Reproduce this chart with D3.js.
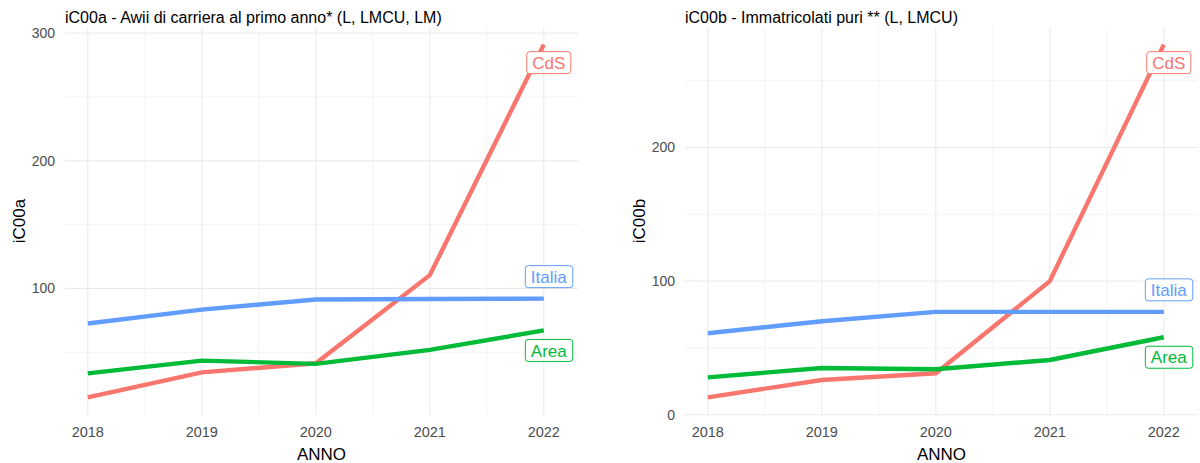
<!DOCTYPE html>
<html>
<head>
<meta charset="utf-8">
<script src="https://cdn.jsdelivr.net/npm/d3@7"></script>
<style>
  body { margin: 0; background: #fff; }
  text { font-family: "Liberation Sans", Arial, sans-serif; }
</style>
</head>
<body>
<svg id="chart" width="1200" height="463"></svg>
<script>
// data
var years = [2018, 2019, 2020, 2021, 2022];
var seriesNames = ["CdS", "Area", "Italia"];
var seriesColors = ["#F8766D", "#00BA38", "#619CFF"];

var iC00aCdS = [14.8, 34.4, 41.5, 110.5, 291];
var iC00aArea = [33.6, 43.6, 41.0, 52.0, 67.2];
var iC00aItalia = [72.6, 83.5, 91.4, 91.8, 92.1];

var iC00bCdS = [13, 26, 31, 100, 277];
var iC00bArea = [28, 35, 34, 41, 58];
var iC00bItalia = [61, 70, 77, 77, 77];

var panels = [
  { left: 65, title: "iC00a - Awii di carriera al primo anno* (L, LMCU, LM)", ylab: "iC00a",
    values: [iC00aCdS, iC00aArea, iC00aItalia] },
  { left: 685, title: "iC00b - Immatricolati puri ** (L, LMCU)", ylab: "iC00b",
    values: [iC00bCdS, iC00bArea, iC00bItalia] }
];

var svg = d3.select("#chart");
var panelW = 513, plotTop = 27, plotBottom = 415;
// offset of the repel-style labels from the last point, in px
var labelDy = [18, 20, -22];

panels.forEach(function(p) {
  var g = svg.append("g").attr("transform", "translate(" + p.left + ",0)");

  var x = d3.scaleLinear().domain([2017.8, 2022.3]).range([0, panelW]);

  var all = [].concat.apply([], p.values);
  var lo = d3.min(all), hi = d3.max(all), pad = (hi - lo) * 0.05;
  var y = d3.scaleLinear().domain([lo - pad, hi + pad]).range([plotBottom, plotTop]);

  var yMajor = y.ticks(3);
  var yMinor = d3.range(50, hi + pad, 100).filter(function(v) { return v > lo - pad; });
  var xMinor = d3.range(2018.5, 2022, 1);

  // grid
  g.selectAll(".ymin").data(yMinor).join("line")
    .attr("x1", 0).attr("x2", panelW)
    .attr("y1", d => y(d)).attr("y2", d => y(d))
    .attr("stroke", "#ebebeb").attr("stroke-width", 0.6);
  g.selectAll(".xmin").data(xMinor).join("line")
    .attr("x1", d => x(d)).attr("x2", d => x(d))
    .attr("y1", plotTop).attr("y2", plotBottom)
    .attr("stroke", "#ebebeb").attr("stroke-width", 0.6);
  g.selectAll(".ymaj").data(yMajor).join("line")
    .attr("x1", 0).attr("x2", panelW)
    .attr("y1", d => y(d)).attr("y2", d => y(d))
    .attr("stroke", "#ebebeb").attr("stroke-width", 1.1);
  g.selectAll(".xmaj").data(years).join("line")
    .attr("x1", d => x(d)).attr("x2", d => x(d))
    .attr("y1", plotTop).attr("y2", plotBottom)
    .attr("stroke", "#ebebeb").attr("stroke-width", 1.1);

  // tick labels
  g.selectAll(".ytl").data(yMajor).join("text")
    .attr("x", -10).attr("y", d => y(d)).attr("dy", "0.35em")
    .attr("text-anchor", "end").attr("font-size", 14).attr("fill", "#4d4d4d")
    .text(d => d);
  g.selectAll(".xtl").data(years).join("text")
    .attr("x", d => x(d)).attr("y", 437)
    .attr("text-anchor", "middle").attr("font-size", 14.5).attr("fill", "#4d4d4d")
    .text(d => d);

  // titles
  g.append("text").attr("x", 0).attr("y", 23).attr("font-size", 16).attr("fill", "#000")
    .text(p.title);
  g.append("text").attr("x", panelW / 2).attr("y", 460).attr("text-anchor", "middle")
    .attr("font-size", 17).attr("fill", "#000").text("ANNO");
  g.append("text").attr("transform", "translate(-40," + ((plotTop + plotBottom) / 2) + ") rotate(-90)")
    .attr("text-anchor", "middle").attr("font-size", 17).attr("fill", "#000").text(p.ylab);

  // lines
  var line = d3.line().x((d, i) => x(years[i])).y(d => y(d));
  p.values.forEach(function(vals, k) {
    g.append("path").datum(vals)
      .attr("d", line).attr("fill", "none")
      .attr("stroke", seriesColors[k]).attr("stroke-width", 4.4);
  });

  // labels at end of each line
  p.values.forEach(function(vals, k) {
    var last = vals[vals.length - 1];
    var cx = x(years[years.length - 1]) + 5;
    var cy = y(last) + labelDy[k];
    var lg = g.append("g");
    var box = lg.append("rect");
    var t = lg.append("text")
      .attr("x", cx).attr("y", cy).attr("dy", "0.36em")
      .attr("text-anchor", "middle").attr("font-size", 17)
      .attr("fill", seriesColors[k]).text(seriesNames[k]);
    var bb = t.node().getBBox();
    box.attr("x", bb.x - 5.5).attr("y", cy - 11)
      .attr("width", bb.width + 11).attr("height", 22)
      .attr("rx", 3).attr("fill", "#fff")
      .attr("stroke", seriesColors[k]).attr("stroke-width", 1);
  });
});
</script>
</body>
</html>
